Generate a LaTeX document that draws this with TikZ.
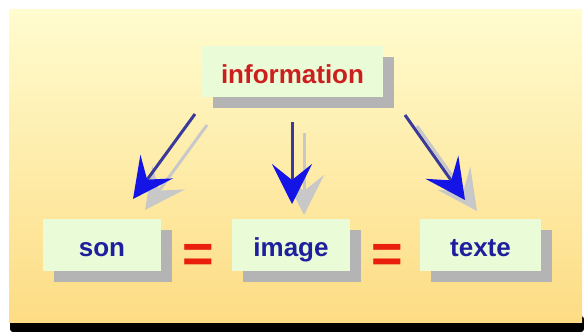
\documentclass[tikz,border=0pt]{standalone}
\usepackage{fontspec}
\setmainfont{Liberation Sans}
\usetikzlibrary{arrows.meta,shadows}
\definecolor{bgtop}{HTML}{FFFCCF}
\definecolor{bgbottom}{HTML}{FDDC84}
\definecolor{boxface}{HTML}{EAFBD8}
\definecolor{boxshade}{HTML}{B4B4B4}
\definecolor{wordblue}{HTML}{1E1E9E}
\definecolor{wordred}{HTML}{CC1E1E}
\definecolor{eqred}{HTML}{EA1E0C}
\definecolor{stemcol}{HTML}{3A3A9C}
\definecolor{headcol}{HTML}{1414E6}
\definecolor{arrowshade}{HTML}{C8C8C8}
\tikzset{
  box/.style={fill=boxface,inner sep=0pt,minimum width=118pt,minimum height=52pt,
    text height=23pt,text depth=0pt,
    font=\bfseries\fontsize{26}{30}\selectfont,text=wordblue,
    drop shadow={shadow xshift=11pt,shadow yshift=-11pt,fill=boxshade,opacity=1}},
  equal/.style={inner sep=0pt,text=eqred,font=\bfseries\fontsize{54}{54}\selectfont},
  flow/.style={line width=3pt,draw=stemcol,-{Stealth[length=40pt,width=40pt,inset=16pt,color=headcol]}},
  flowshade/.style={line width=3pt,draw=arrowshade,-{Stealth[length=40pt,width=40pt,inset=16pt,color=arrowshade]}}
}
\begin{document}
\begin{tikzpicture}[x=1pt,y=-1pt]
		\useasboundingbox (0,0) rectangle (584,332);
		\fill[black,rounded corners=3pt] (10,316) rectangle (584,332);
		\shade[top color=bgtop,bottom color=bgbottom] (9,9) rectangle (582,322);
		\coordinate (lefttop) at (195,114);
		\coordinate (lefttip) at (133,199);
		\coordinate (midtop) at (292,122);
		\coordinate (midtip) at (292,204);
		\coordinate (righttop) at (405,115);
		\coordinate (righttip) at (465,200);
		\foreach \s/\e in {lefttop/lefttip,midtop/midtip,righttop/righttip}
			\draw[flowshade] ([shift={(12,11)}]\s) -- ([shift={(12,11)}]\e);
		\foreach \s/\e in {lefttop/lefttip,midtop/midtip,righttop/righttip}
			\draw[flow] (\s) -- (\e);
		\node[box,minimum width=181pt,minimum height=51pt,text=wordred] (info) at (292.5,71.5) {information};
		\node[box] (son) at (102,245) {son};
		\node[box] (image) at (291,245) {image};
		\node[box,minimum width=121pt] (texte) at (480.5,245) {texte};
		\node[equal] (eqleft) at (198.5,258) {=};
		\node[equal] (eqright) at (387.5,258) {=};
		\end{tikzpicture}
\end{document}
